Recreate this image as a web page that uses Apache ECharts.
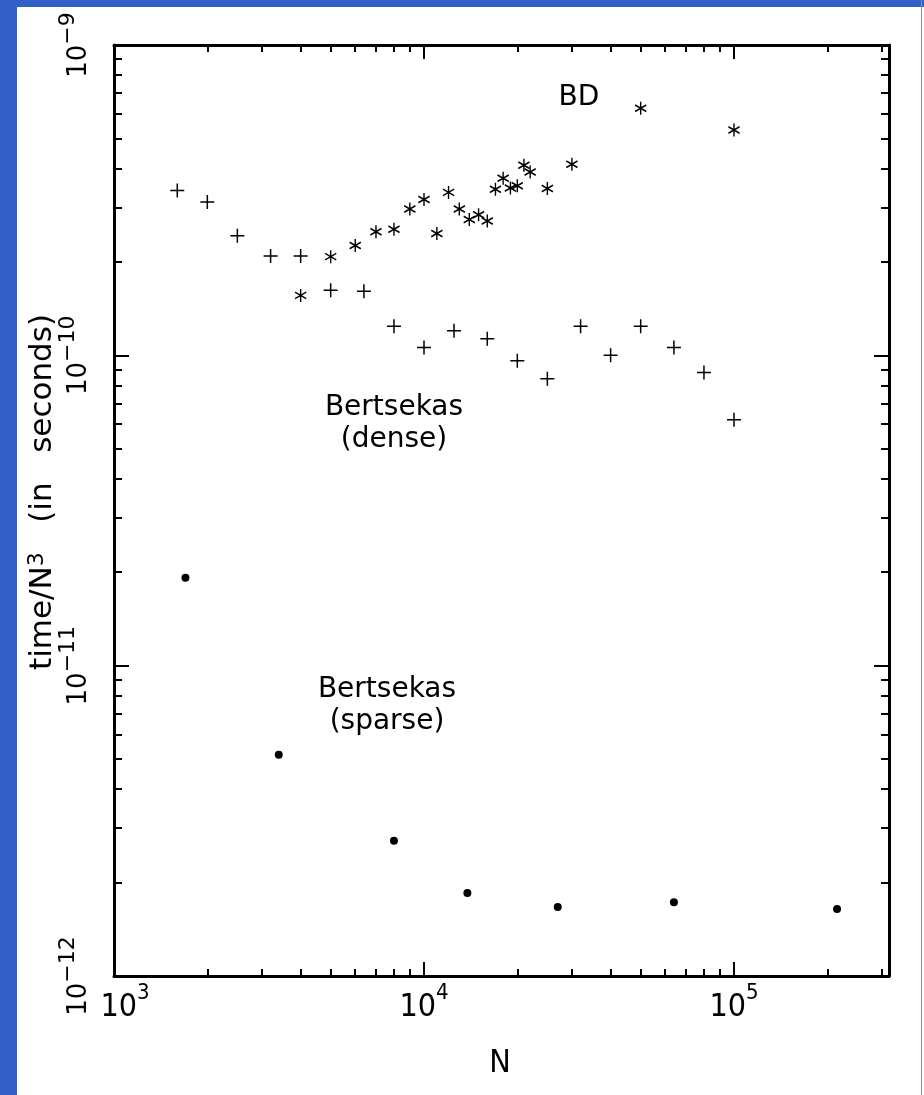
<!DOCTYPE html>
<html>
<head>
<meta charset="utf-8">
<script src="https://cdn.jsdelivr.net/npm/echarts@6/dist/echarts.min.js"></script>
<style>
  html, body { margin: 0; padding: 0; background: #fff; }
  #chart { width: 924px; height: 1095px; }
</style>
</head>
<body>
<div id="chart"></div>
<script>
// Bertsekas (dense) : crosses
var denseN = [1600, 2000, 2500, 3200, 4000, 5000, 6400, 8000, 10000, 12500, 16000, 20000, 25000, 32000, 40000, 50000, 64000, 80000, 100000];
var denseT = [3.40e-10, 3.12e-10, 2.43e-10, 2.09e-10, 2.09e-10, 1.62e-10, 1.61e-10, 1.24e-10, 1.06e-10, 1.20e-10, 1.13e-10, 9.6e-11, 8.4e-11, 1.24e-10, 1.00e-10, 1.24e-10, 1.06e-10, 8.8e-11, 6.2e-11];
// BD : asterisks
var bdN = [4000, 5000, 6000, 7000, 8000, 9000, 10000, 11000, 12000, 13000, 14000, 15000, 16000, 17000, 18000, 19000, 20000, 21000, 22000, 25000, 30000, 50000, 100000];
var bdT = [1.56e-10, 2.08e-10, 2.26e-10, 2.50e-10, 2.55e-10, 2.96e-10, 3.18e-10, 2.47e-10, 3.35e-10, 2.96e-10, 2.74e-10, 2.84e-10, 2.71e-10, 3.43e-10, 3.72e-10, 3.46e-10, 3.52e-10, 4.10e-10, 3.90e-10, 3.45e-10, 4.13e-10, 6.25e-10, 5.32e-10];
// Bertsekas (sparse) : dots
var sparseN = [1700, 3400, 8000, 13800, 27000, 64000, 215000];
var sparseT = [1.92e-11, 5.16e-12, 2.73e-12, 1.85e-12, 1.67e-12, 1.73e-12, 1.645e-12];

// axis ticks
var xMin = 1e3, xMax = 316227.77;
var yMin = 1e-12, yMax = 1e-9;
var xMajor = [1e3, 1e4, 1e5];
var yMajor = [1e-12, 1e-11, 1e-10, 1e-9];
var minorMult = [2, 3, 4, 5, 6, 7, 8, 9];

function minorTicks(decades, max) {
    var out = [];
    for (var i = 0; i < decades.length; i++) {
        for (var j = 0; j < minorMult.length; j++) {
            var v = decades[i] * minorMult[j];
            if (v <= max * 1.0001) out.push(v);
        }
    }
    return out;
}
var xMinor = minorTicks(xMajor, xMax);
var yMinor = minorTicks(yMajor.slice(0, 3), yMax);

function pairs(a, b) {
    var out = [];
    for (var i = 0; i < a.length; i++) out.push([a[i], b[i]]);
    return out;
}

var plusPath = 'path://M0,7H14M7,0V14';
var starPath = 'path://M5.6,0V13M0,3.25L11.2,9.75M0,9.75L11.2,3.25';

var black = '#000';
var labelFontX = '"Liberation Sans Narrow", "DejaVu Sans Condensed", sans-serif';
var labelFont = '"DejaVu Sans", sans-serif';

function expStr(v) {
    var e = Math.round(Math.log(v) / Math.LN10);
    return e < 0 ? '\u2212' + (-e) : '' + e;
}
function xLabel(v) {
    // the first label sits a bit to the right of its tick
    var pad = v < 2000 ? '{p|}' : '';
    return pad + '{b|10}{s|' + expStr(v) + '}';
}
function yLabel(v) {
    return '{b|10}{s|' + expStr(v) + '}';
}

function xAxisDef(pos, major, showLabel) {
    return {
        type: 'log', logBase: 10, min: xMin, max: xMax, position: pos,
        axisLine: { show: major, onZero: false, lineStyle: { color: black, width: 3 } },
        axisTick: { show: true, inside: true, length: major ? 14 : 7,
            customValues: major ? xMajor : xMinor, lineStyle: { color: black, width: 2 } },
        axisLabel: { show: showLabel, customValues: xMajor, margin: 6, formatter: xLabel,
            rich: {
                p: { width: 22 },
                b: { fontFamily: labelFontX, fontSize: 32, color: black, padding: [10, 0, 0, 0], verticalAlign: 'bottom' },
                s: { fontFamily: labelFontX, fontSize: 22, color: black, verticalAlign: 'top' }
            } },
        minorTick: { show: false }, splitLine: { show: false }
    };
}
function yAxisDef(pos, major, showLabel) {
    return {
        type: 'log', logBase: 10, min: yMin, max: yMax, position: pos,
        axisLine: { show: major, onZero: false, lineStyle: { color: black, width: 3 } },
        axisTick: { show: true, inside: true, length: major ? 15 : 8,
            customValues: major ? yMajor : yMinor, lineStyle: { color: black, width: 2 } },
        axisLabel: { show: showLabel, customValues: yMajor, rotate: 90, margin: 22, formatter: yLabel,
            rich: {
                b: { fontFamily: labelFont, fontSize: 26, color: black, padding: [9, 0, 0, 0], verticalAlign: 'bottom' },
                s: { fontFamily: labelFont, fontSize: 22, color: black, verticalAlign: 'top' }
            } },
        minorTick: { show: false }, splitLine: { show: false }
    };
}

var chart = echarts.init(document.getElementById('chart'));
var option = {
    backgroundColor: '#fff',
    animation: false,
    grid: { left: 114, top: 45, width: 775, height: 931, containLabel: false },
    xAxis: [
        xAxisDef('bottom', true, true),
        xAxisDef('bottom', false, false),
        xAxisDef('top', true, false),
        xAxisDef('top', false, false)
    ],
    yAxis: [
        yAxisDef('left', true, true),
        yAxisDef('left', false, false),
        yAxisDef('right', true, false),
        yAxisDef('right', false, false)
    ],
    graphic: [
        { type: 'rect', left: 0, top: 0, shape: { width: 924, height: 7 }, style: { fill: '#3160c8' }, z: 100 },
        { type: 'rect', left: 0, top: 0, shape: { width: 17, height: 1095 }, style: { fill: '#3160c8' }, z: 100 },
        { type: 'rect', left: 921, top: 0, shape: { width: 1, height: 1095 }, style: { fill: '#8090b0' }, z: 100 },
        { type: 'text', x: 43, y: 492, rotation: Math.PI / 2,
            style: { text: 'time/N{s|3}   (in   seconds)', fontFamily: labelFont, fontSize: 31, fill: black,
                align: 'center', verticalAlign: 'middle',
                rich: { s: { fontSize: 22, fontFamily: labelFont, verticalAlign: 'top', padding: [0, 0, 12, 0] } } } },
        { type: 'text', x: 500, y: 1064, style: { text: 'N', fontFamily: labelFontX, fontSize: 32, fill: black,
            align: 'center', verticalAlign: 'middle' } },
        { type: 'text', x: 579, y: 98, style: { text: 'BD', fontFamily: labelFont, fontSize: 28, fill: black,
            align: 'center', verticalAlign: 'middle' } },
        { type: 'text', x: 394, y: 424, style: { text: 'Bertsekas\n(dense)', fontFamily: labelFont, fontSize: 28,
            lineHeight: 32, fill: black, align: 'center', verticalAlign: 'middle' } },
        { type: 'text', x: 387, y: 706, style: { text: 'Bertsekas\n(sparse)', fontFamily: labelFont, fontSize: 28,
            lineHeight: 32, fill: black, align: 'center', verticalAlign: 'middle' } }
    ],
    series: [
        {
            name: 'Bertsekas (dense)', type: 'scatter', xAxisIndex: 0, yAxisIndex: 0,
            symbol: plusPath, symbolSize: 14,
            itemStyle: { color: black, borderColor: black, borderWidth: 1.5, opacity: 1 },
            emphasis: { disabled: true },
            data: pairs(denseN, denseT)
        },
        {
            name: 'BD', type: 'scatter', xAxisIndex: 0, yAxisIndex: 0,
            symbol: starPath, symbolSize: [11.2, 13],
            itemStyle: { color: black, borderColor: black, borderWidth: 1.5, opacity: 1 },
            emphasis: { disabled: true },
            data: pairs(bdN, bdT)
        },
        {
            name: 'Bertsekas (sparse)', type: 'scatter', xAxisIndex: 0, yAxisIndex: 0,
            symbol: 'circle', symbolSize: 8,
            itemStyle: { color: black, opacity: 1 },
            emphasis: { disabled: true },
            data: pairs(sparseN, sparseT)
        }
    ]
};
chart.setOption(option);
</script>
</body>
</html>
